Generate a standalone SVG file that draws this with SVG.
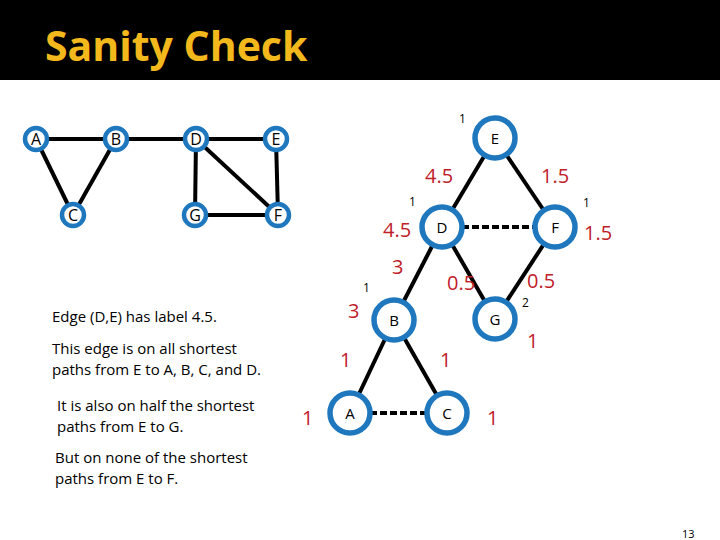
<svg xmlns="http://www.w3.org/2000/svg" width="720" height="540" viewBox="0 0 720 540">
<style>
.n circle{fill:#fff;stroke:#1f78be}
.s circle{stroke-width:4.5}
.b circle{stroke-width:5.5}
text{font-family:"Open Sans","Liberation Sans",sans-serif}
.nl{font-size:15px;text-anchor:middle;fill:#000}
.s .nl{font-size:16px}
.e line{stroke:#000;stroke-width:4}
.d{stroke-dasharray:7,3}
.r{fill:#c0202a;font-size:20px}
.k{fill:#000;font-size:12px}
.t{font-size:15px;fill:#000}
</style>
<rect width="720" height="540" fill="#fff"/>
<rect width="720" height="80" fill="#000"/>
<text x="45" y="61" font-size="41" font-weight="bold" fill="#f2b81c">Sanity Check</text>
<g class="e">
<line x1="36" y1="139" x2="116" y2="139"/><line x1="36" y1="139" x2="73" y2="215"/><line x1="116" y1="139" x2="73" y2="215"/>
<line x1="116" y1="139" x2="196" y2="139"/><line x1="196" y1="139" x2="276" y2="139"/><line x1="196" y1="139" x2="195" y2="215"/>
<line x1="196" y1="139" x2="278" y2="215"/><line x1="276" y1="139" x2="278" y2="215"/><line x1="195" y1="215" x2="278" y2="215"/>
<line x1="495" y1="138" x2="442" y2="227"/><line x1="495" y1="138" x2="555" y2="227"/>
<line class="d" x1="442" y1="227" x2="555" y2="227"/>
<line x1="442" y1="227" x2="394" y2="320"/><line x1="442" y1="227" x2="495" y2="319"/><line x1="555" y1="227" x2="495" y2="319"/>
<line x1="394" y1="320" x2="350" y2="413"/><line x1="394" y1="320" x2="447" y2="413"/>
<line class="d" x1="350" y1="413" x2="447" y2="413"/>
</g>
<g class="n s" id="lA"><circle cx="36" cy="139" r="11"/><text class="nl" x="36" y="145">A</text></g>
<g class="n s" id="lB"><circle cx="116" cy="139" r="11"/><text class="nl" x="116" y="145">B</text></g>
<g class="n s" id="lC"><circle cx="73" cy="215" r="11"/><text class="nl" x="73" y="221">C</text></g>
<g class="n s" id="lD"><circle cx="196" cy="139" r="11"/><text class="nl" x="196" y="145">D</text></g>
<g class="n s" id="lE"><circle cx="276" cy="139" r="11"/><text class="nl" x="276" y="145">E</text></g>
<g class="n s" id="lF"><circle cx="278" cy="215" r="11"/><text class="nl" x="278" y="221">F</text></g>
<g class="n s" id="lG"><circle cx="195" cy="215" r="11"/><text class="nl" x="195" y="221">G</text></g>
<g class="n b" id="rE"><circle cx="495" cy="138" r="20"/><text class="nl" x="495" y="144">E</text></g>
<g class="n b" id="rD"><circle cx="442" cy="227" r="20"/><text class="nl" x="442" y="233">D</text></g>
<g class="n b" id="rF"><circle cx="555" cy="227" r="20"/><text class="nl" x="555" y="233">F</text></g>
<g class="n b" id="rB"><circle cx="394" cy="320" r="20"/><text class="nl" x="394" y="326">B</text></g>
<g class="n b" id="rG"><circle cx="495" cy="319" r="20"/><text class="nl" x="495" y="325">G</text></g>
<g class="n b" id="rA"><circle cx="350" cy="413" r="20"/><text class="nl" x="350" y="419">A</text></g>
<g class="n b" id="rC"><circle cx="447" cy="413" r="20"/><text class="nl" x="447" y="419">C</text></g>
<text class="k" x="459" y="123">1</text>
<text class="k" x="409" y="206">1</text>
<text class="k" x="583" y="207">1</text>
<text class="k" x="363" y="292">1</text>
<text class="k" x="522" y="307">2</text>
<text class="r" x="425" y="183">4.5</text>
<text class="r" x="541" y="183">1.5</text>
<text class="r" x="383" y="237">4.5</text>
<text class="r" x="584" y="240">1.5</text>
<text class="r" x="392" y="274">3</text>
<text class="r" x="447" y="290">0.5</text>
<text class="r" x="527" y="288">0.5</text>
<text class="r" x="348" y="318">3</text>
<text class="r" x="340" y="367">1</text>
<text class="r" x="440" y="367">1</text>
<text class="r" x="527" y="348">1</text>
<text class="r" x="302" y="425">1</text>
<text class="r" x="487" y="425">1</text>
<text class="t" x="52" y="322">Edge (D,E) has label 4.5.</text>
<text class="t" x="52" y="354">This edge is on all shortest</text>
<text class="t" x="52" y="375">paths from E to A, B, C, and D.</text>
<text class="t" x="57" y="411">It is also on half the shortest</text>
<text class="t" x="57" y="432">paths from E to G.</text>
<text class="t" x="55" y="463">But on none of the shortest</text>
<text class="t" x="55" y="484">paths from E to F.</text>
<text x="682" y="538" font-size="11" fill="#000">13</text>
</svg>
